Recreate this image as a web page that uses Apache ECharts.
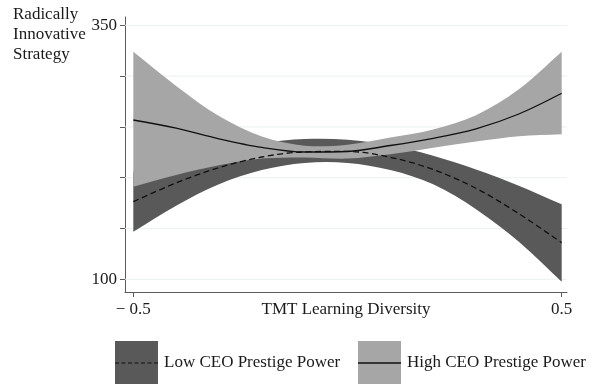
<!DOCTYPE html>
<html>
<head>
<meta charset="utf-8">
<script src="https://cdn.jsdelivr.net/npm/echarts@6/dist/echarts.min.js"></script>
<style>
html,body{margin:0;padding:0;background:#fff;}
#chart{width:599px;height:384px;}
</style>
</head>
<body>
<div id="chart"></div>
<script>
// ---- data ----
const xValues   = [-0.5, -0.4, -0.3, -0.2, -0.1, 0, 0.1, 0.2, 0.3, 0.4, 0.5];
// Low CEO Prestige Power (dashed line, dark band)
const lowMean   = [176.4, 194.9, 209.9, 220.4, 225.4, 225.9, 220.1, 208.1, 189.6, 164.6, 136.0];
const lowUpper  = [205.9, 216.5, 226.0, 234.0, 238.0, 237.3, 231.6, 221.6, 208.1, 192.1, 173.8];
const lowLower  = [146.9, 172.5, 193.5, 207.5, 214.5, 214.5, 207.5, 193.5, 169.0, 137.0, 97.6];
// High CEO Prestige Power (solid line, light band)
const highMean  = [256.8, 248.8, 238.3, 229.8, 225.3, 225.8, 231.7, 238.8, 248.1, 262.7, 283.1];
const highUpper = [324.0, 290.4, 260.7, 240.5, 231.5, 232.5, 239.5, 247.5, 261.5, 287.0, 324.0];
const highLower = [191.1, 202.7, 212.2, 218.8, 220.0, 218.8, 223.0, 229.5, 235.6, 240.8, 242.7];
// axes
const yTicks      = [100, 150, 200, 250, 300, 350];
const yTickLabels = [100, 350];
const xTickLabels = [-0.5, 0.5];
const yTitle = 'Radically\nInnovative\nStrategy';
const xTitle = 'TMT Learning Diversity';
const lowName  = 'Low CEO Prestige Power';
const highName = 'High CEO Prestige Power';

// ---- styling ----
const FONT = '"Liberation Serif", "Times New Roman", serif';
const DARK = '#595959';
const LIGHT = '#a6a6a6';
const AXIS = '#5a5a5a';
const GRID = '#eaf0f0';

function pairs(ys) { return xValues.map((x, i) => [x, ys[i]]); }

function bandSeries(upper, lower, color, z) {
  return {
    type: 'custom',
    z: z,
    silent: true,
    animation: false,
    data: [[0, 0]],
    renderItem: function (params, api) {
      const top = xValues.map((x, i) => api.coord([x, upper[i]]));
      const bot = xValues.map((x, i) => api.coord([x, lower[i]])).reverse();
      // duplicate corner points so the ends stay straight/vertical
      const pts = [top[0]].concat(top, [top[top.length - 1]], [bot[0]], bot, [bot[bot.length - 1]]);
      return {
        type: 'polygon',
        shape: { points: pts, smooth: 0.33 },
        style: { fill: color, stroke: null }
      };
    }
  };
}

const chart = echarts.init(document.getElementById('chart'), null, { renderer: 'canvas' });

const option = {
  backgroundColor: '#ffffff',
  animation: false,
  grid: { left: 125, right: 32, top: 17, bottom: 92, containLabel: false },
  xAxis: {
    type: 'value',
    min: -0.5194,
    max: 0.5124,
    axisLine: { show: true, onZero: false, lineStyle: { color: AXIS, width: 1 } },
    axisTick: { show: true, length: 5, lineStyle: { color: AXIS }, customValues: xTickLabels },
    axisLabel: {
      show: true, margin: 9, fontFamily: FONT, fontSize: 17, color: '#1a1a1a',
      customValues: xTickLabels,
      formatter: v => (v < 0 ? '\u2212 ' + Math.abs(v) : String(v))
    },
    splitLine: { show: false }
  },
  yAxis: {
    type: 'value',
    min: 87.5,
    max: 358.2,
    axisLine: { show: true, onZero: false, lineStyle: { color: AXIS, width: 1 } },
    axisTick: { show: true, length: 5, lineStyle: { color: AXIS }, customValues: yTicks },
    axisLabel: {
      show: true, margin: 8, fontFamily: FONT, fontSize: 17, color: '#1a1a1a',
      customValues: yTickLabels, padding: [4, 0, 0, 0]
    },
    splitLine: { show: false }
  },
  series: [
    // horizontal grid lines at the y ticks
    {
      type: 'custom',
      z: 1,
      silent: true,
      animation: false,
      data: yTicks.map(v => [v]),
      renderItem: function (params, api) {
        const cs = params.coordSys;
        const y = api.coord([0, api.value(0)])[1];
        return {
          type: 'line',
          shape: { x1: cs.x, y1: y, x2: cs.x + cs.width, y2: y },
          style: { stroke: GRID, lineWidth: 1 }
        };
      }
    },
    bandSeries(lowUpper, lowLower, DARK, 2),
    bandSeries(highUpper, highLower, LIGHT, 3),
    {
      type: 'line', name: lowName, z: 4, data: pairs(lowMean), smooth: 0.33,
      showSymbol: false, symbol: 'none', silent: true, animation: false,
      lineStyle: { color: '#111', width: 1.3, type: [6, 3.5] }
    },
    {
      type: 'line', name: highName, z: 4, data: pairs(highMean), smooth: 0.33,
      showSymbol: false, symbol: 'none', silent: true, animation: false,
      lineStyle: { color: '#111', width: 1.3, type: 'solid' }
    }
  ],
  graphic: [
    {
      type: 'text', left: 13, top: 5, silent: true,
      style: { text: yTitle, font: '17px ' + FONT, lineHeight: 20, fill: '#1a1a1a' }
    },
    // x-axis title
    {
      type: 'text', x: 346, y: 310, silent: true,
      style: { text: xTitle, font: '17px ' + FONT, fill: '#1a1a1a', align: 'center', verticalAlign: 'middle' }
    },
    // legend: low
    { type: 'rect', shape: { x: 115, y: 341, width: 43, height: 43 }, style: { fill: DARK }, silent: true },
    { type: 'line', shape: { x1: 115, y1: 363, x2: 158, y2: 363 }, style: { stroke: '#111', lineWidth: 1.2, lineDash: [4, 2.5] }, silent: true },
    { type: 'text', x: 164, y: 363, silent: true,
      style: { text: lowName, font: '17px ' + FONT, fill: '#1a1a1a', verticalAlign: 'middle' } },
    // legend: high
    { type: 'rect', shape: { x: 358, y: 341, width: 43, height: 43 }, style: { fill: LIGHT }, silent: true },
    { type: 'line', shape: { x1: 358, y1: 363, x2: 401, y2: 363 }, style: { stroke: '#111', lineWidth: 1.3 }, silent: true },
    { type: 'text', x: 407, y: 363, silent: true,
      style: { text: highName, font: '17px ' + FONT, fill: '#1a1a1a', verticalAlign: 'middle' } }
  ]
};

chart.setOption(option);
</script>
</body>
</html>
